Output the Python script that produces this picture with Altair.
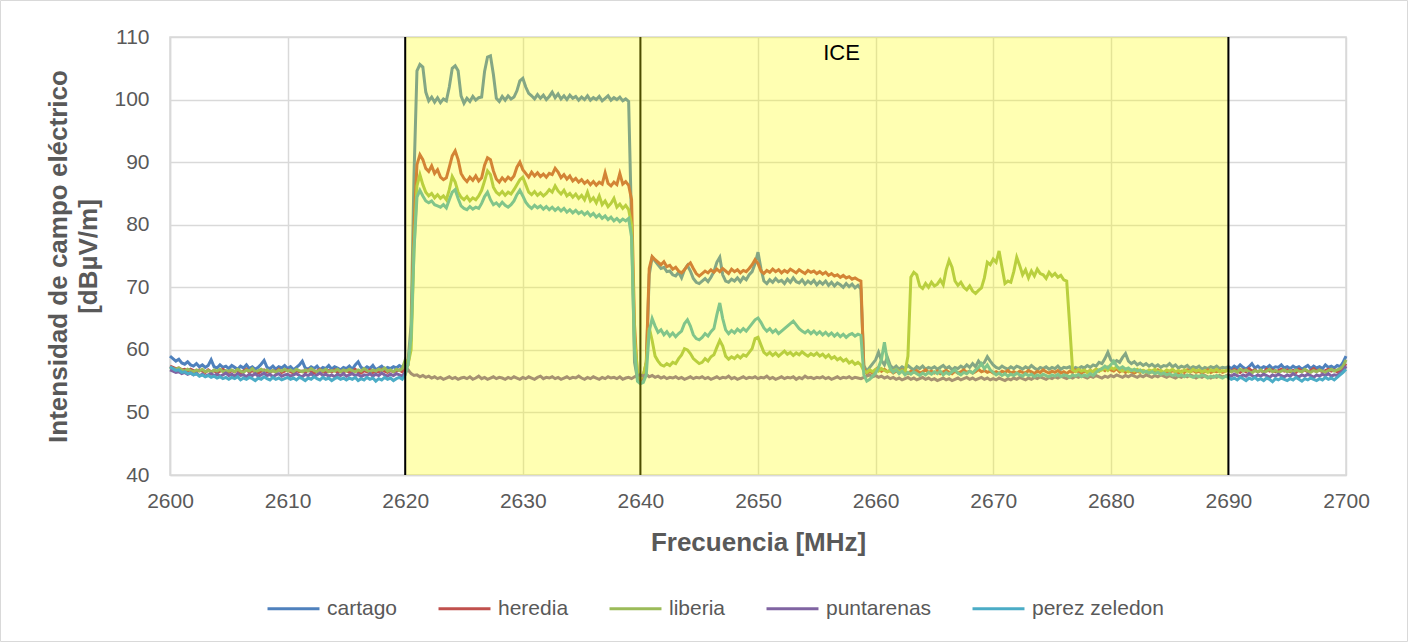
import altair as alt
import pandas as pd

# Spectrum sweep: one reading every 0.25 MHz from 2600 MHz to 2700 MHz
FREQ_START = 2600.0
FREQ_STEP = 0.25

SERIES = ["cartago", "heredia", "liberia", "puntarenas", "perez zeledon"]
COLORS = ["#4F81BD", "#C0504D", "#9BBB59", "#8064A2", "#4BACC6"]

X_TICKS = [2600, 2610, 2620, 2630, 2640, 2650, 2660, 2670, 2680, 2690, 2700]
Y_TICKS = [40, 50, 60, 70, 80, 90, 100, 110]

# Operator band (ICE) and its channel edges
BAND_START = [2620]
BAND_END = [2690]
EDGES_UNDER = [2640]
EDGES_OVER = [2620, 2690]
BAND_LABEL = ["ICE"]
BAND_LABEL_FREQ = [2657.1]
BAND_LABEL_LEVEL = [107.4]

cartago = [
    59.0, 58.6, 58.2, 58.5, 57.9, 57.7, 58.1, 57.6, 57.4, 57.8, 57.3, 57.6, 57.2, 57.5, 58.4, 57.3, 57.1, 57.6, 57.2, 57.4,
    57.0, 57.5, 57.2, 56.9, 57.4, 57.1, 57.6, 57.0, 57.3, 56.9, 57.2, 57.7, 58.3, 57.2, 57.0, 57.4, 56.9, 57.3, 57.1, 57.5,
    57.0, 57.3, 56.8, 57.2, 57.6, 58.2, 57.1, 56.9, 57.3, 57.0, 57.4, 56.8, 57.2, 57.0, 57.5, 56.9, 57.3, 57.1, 56.8, 57.2,
    57.0, 57.4, 56.9, 57.6, 58.1, 57.2, 56.9, 57.3, 57.0, 57.5, 56.8, 57.1, 57.4, 56.9, 57.2, 57.0, 57.3, 57.1, 57.5, 57.2,
    57.8, 58.4, 64.0, 88.0, 104.6, 105.6, 105.2, 101.2, 99.8, 100.4, 99.6, 100.3, 99.5, 100.1, 99.8, 102.0, 105.0, 105.4, 104.6, 100.6,
    99.4, 100.2, 99.7, 100.5, 99.9, 100.3, 100.4, 104.5, 106.8, 107.0, 104.0, 100.2, 99.7, 100.5, 99.9, 100.6, 100.1, 100.4, 101.4, 103.0,
    103.4, 102.0, 101.0, 100.6, 100.1, 100.8, 100.2, 100.7, 100.0, 100.5, 101.2, 100.3, 100.9, 100.1, 100.6, 100.0, 100.7, 100.2, 100.5, 99.9,
    100.4, 100.0, 100.6, 99.9, 100.3, 100.0, 100.5, 99.8, 100.2, 100.6, 99.9, 100.3, 100.0, 100.4, 99.8, 100.1, 99.7, 80.0, 58.0, 55.4,
    55.0, 55.6, 57.5, 72.0, 74.8, 74.2, 73.6, 73.0, 73.2, 72.5, 72.6, 72.0, 71.8, 72.4, 71.5, 72.8, 73.5, 72.6, 71.4, 70.8,
    70.6, 71.0, 71.4, 70.9, 71.6, 72.5, 74.0, 74.8, 72.0, 71.0, 70.8, 71.3, 71.0, 71.5, 70.9, 71.6, 71.2, 72.0, 72.5, 73.8,
    75.6, 73.0, 71.0, 70.6, 71.2, 70.8, 71.4, 70.9, 71.1, 70.6, 71.3, 70.8, 71.5, 70.9, 70.7, 71.2, 70.5, 71.0, 70.6, 71.1,
    70.4, 70.9, 70.5, 71.0, 70.3, 70.8, 70.2, 70.7, 70.4, 70.0, 70.6, 70.1, 70.5, 69.9, 70.3, 69.7, 57.5, 56.6, 57.2, 57.8,
    58.4, 59.6, 58.3, 57.6, 58.8, 57.5, 57.0, 57.4, 56.9, 57.3, 57.0, 57.5, 57.1, 56.8, 57.3, 57.0, 57.4, 56.9, 57.2, 57.0,
    57.3, 56.9, 57.2, 57.5, 57.0, 57.3, 56.8, 57.2, 57.0, 57.4, 57.1, 57.6, 57.2, 57.8, 57.3, 58.2, 57.6, 58.0, 58.9, 58.2,
    57.6, 57.2, 57.0, 57.4, 57.1, 56.9, 57.3, 57.0, 57.4, 57.2, 56.9, 57.3, 57.0, 57.5, 57.1, 56.8, 57.2, 57.0, 57.3, 56.9,
    57.2, 57.0, 57.4, 56.9, 57.2, 57.1, 57.3, 56.8, 57.2, 57.0, 57.3, 57.1, 57.5, 57.2, 57.6, 57.4, 58.0, 57.8, 58.6, 59.6,
    58.4, 57.9, 58.3, 58.0, 58.8, 59.4, 58.2, 57.8, 58.1, 57.6, 57.9, 57.5, 57.8, 57.4, 57.7, 57.3, 57.6, 57.2, 57.5, 57.4,
    57.8, 57.3, 57.6, 57.1, 57.4, 57.2, 57.5, 57.0, 57.3, 57.1, 57.4, 56.9, 57.2, 57.0, 57.3, 57.1, 57.4, 57.0, 57.2, 57.1,
    57.3, 57.0, 57.4, 57.1, 57.6, 57.2, 56.9, 57.3, 57.8, 57.1, 57.4, 57.0, 57.3, 57.1, 57.5, 57.0, 57.3, 57.2, 57.6, 57.1,
    57.3, 57.0, 57.4, 57.1, 57.3, 56.9, 57.2, 57.5, 57.0, 57.4, 57.1, 57.3, 57.0, 57.6, 57.2, 57.4, 57.1, 57.5, 57.3, 58.0,
    59.0,
]

heredia = [
    57.4, 57.2, 57.0, 57.1, 56.8, 56.9, 56.6, 56.9, 56.7, 56.5, 56.8, 56.6, 56.4, 56.8, 56.5, 56.7, 56.3, 56.6, 56.9, 56.5,
    56.4, 56.7, 56.5, 56.8, 56.3, 56.6, 56.9, 56.4, 56.7, 56.5, 56.3, 56.6, 56.8, 56.5, 56.4, 56.7, 56.5, 56.9, 56.4, 56.6,
    56.8, 56.5, 56.3, 56.7, 56.5, 56.6, 56.4, 56.8, 56.5, 56.3, 56.6, 56.9, 56.5, 56.4, 56.7, 56.5, 56.8, 56.4, 56.6, 56.5,
    56.7, 56.4, 56.6, 56.9, 56.5, 56.3, 56.7, 56.5, 56.8, 56.4, 56.6, 56.5, 56.9, 56.6, 56.4, 56.7, 56.5, 56.6, 56.8, 56.5,
    57.0, 57.6, 62.0, 80.0, 89.6, 91.2, 90.4, 89.0, 88.5, 89.4, 88.2, 88.8, 87.6, 87.2, 87.5, 89.2, 91.0, 91.8, 90.4, 88.2,
    87.4, 86.9, 87.6, 87.1, 87.8, 87.0, 87.5, 89.5, 90.7, 90.4, 88.6, 87.3, 86.8, 87.5, 87.0, 87.6, 87.2, 87.8, 89.2, 90.0,
    88.8, 88.2, 87.6, 88.4, 87.8, 88.3, 87.7, 88.1, 87.6, 88.2, 88.0, 89.0, 88.4, 87.5, 88.0, 87.3, 87.8, 87.0, 87.4, 86.8,
    87.2, 86.6, 87.0, 86.4, 86.9, 86.3, 86.8, 86.5, 88.3, 86.6, 86.2, 86.8, 86.4, 88.2, 86.5, 86.9, 86.3, 84.0, 64.0, 55.8,
    55.2, 55.8, 58.0, 73.0, 74.9, 74.4, 74.0, 73.6, 74.1, 73.3, 73.5, 72.9, 73.2, 72.6, 72.3, 72.8, 73.5, 73.9, 73.0, 72.2,
    71.8, 72.2, 72.6, 72.3, 72.8, 72.4, 72.9, 72.5, 73.0, 72.6, 72.2, 72.9, 72.5, 72.8, 72.3, 72.7, 72.5, 73.0, 73.6, 74.4,
    73.8, 72.6, 72.2, 72.7, 72.4, 72.9, 72.5, 72.8, 72.3, 72.7, 72.4, 72.9, 72.6, 72.3, 72.8, 72.5, 72.2, 72.7, 72.4, 72.6,
    72.2, 72.5, 72.1, 72.4, 71.9, 72.2, 71.8, 72.0, 71.6, 71.9, 71.5, 71.7, 71.3, 71.5, 71.2, 71.0, 57.0, 56.2, 56.6, 56.3,
    56.8, 57.2, 56.6, 56.9, 56.5, 56.7, 56.3, 56.6, 56.4, 56.8, 56.5, 56.2, 56.6, 56.4, 56.7, 56.3, 56.5, 56.8, 56.4, 56.6,
    56.3, 56.6, 56.2, 56.5, 56.7, 56.4, 56.2, 56.6, 56.3, 56.5, 56.8, 56.4, 56.6, 56.3, 56.5, 56.9, 56.5, 56.7, 56.4, 56.6,
    56.3, 56.5, 56.2, 56.6, 56.4, 56.7, 56.3, 56.5, 56.2, 56.6, 56.4, 56.3, 56.7, 56.5, 56.2, 56.6, 56.4, 56.8, 56.5, 56.3,
    56.6, 56.4, 56.7, 56.3, 56.5, 56.2, 56.6, 56.4, 56.8, 56.5, 56.3, 56.6, 56.4, 56.7, 56.5, 56.9, 56.6, 57.0, 56.7, 57.2,
    56.8, 56.6, 57.0, 56.5, 56.8, 56.4, 56.7, 56.5, 56.3, 56.6, 56.4, 56.7, 56.5, 56.3, 56.6, 56.4, 56.8, 56.5, 56.3, 56.6,
    56.4, 56.7, 56.5, 56.3, 56.6, 56.4, 56.8, 56.5, 56.7, 56.4, 56.6, 56.3, 56.5, 56.8, 56.4, 56.6, 56.5, 56.7, 56.4, 56.6,
    56.8, 56.5, 56.9, 56.6, 56.4, 56.8, 56.5, 57.0, 56.6, 56.8, 56.5, 56.7, 56.4, 56.9, 56.6, 56.8, 56.5, 56.7, 56.9, 56.6,
    56.8, 56.5, 56.7, 56.4, 56.9, 56.6, 56.8, 56.5, 56.7, 57.0, 56.6, 56.8, 56.5, 56.7, 56.9, 56.6, 56.8, 56.5, 56.7, 57.2,
    57.8,
]

liberia = [
    57.2, 57.0, 56.9, 57.1, 56.8, 56.6, 56.9, 56.7, 56.5, 56.8, 56.6, 56.9, 56.5, 56.7, 56.4, 56.8, 56.6, 56.9, 56.5, 56.7,
    56.6, 56.8, 56.5, 56.9, 56.6, 56.4, 56.8, 56.6, 57.0, 56.5, 56.7, 56.9, 56.6, 56.8, 56.5, 56.7, 56.4, 56.8, 56.6, 56.9,
    56.6, 56.8, 56.5, 56.9, 56.7, 56.5, 56.8, 56.6, 57.0, 56.7, 56.5, 56.8, 56.6, 56.9, 56.5, 56.7, 56.6, 56.9, 56.5, 56.8,
    56.6, 56.9, 56.7, 56.5, 56.8, 56.6, 57.0, 56.7, 56.5, 56.8, 56.6, 56.9, 56.7, 57.1, 56.6, 56.8, 56.5, 56.9, 56.7, 57.0,
    58.4, 57.8, 60.0, 76.0, 86.2, 88.0, 86.4, 85.2, 84.6, 85.0, 84.3, 84.8, 84.2, 84.6, 84.0, 85.6, 87.7, 86.8, 85.2, 84.4,
    84.0, 84.5, 83.8, 84.3, 84.0, 84.6, 85.5, 87.0, 88.6, 88.0, 86.0, 85.2, 84.8, 85.3, 84.7, 85.2, 84.9, 85.6, 86.4, 87.2,
    87.6, 86.4, 85.2, 84.8, 85.3, 84.7, 85.1, 84.6, 85.0, 85.6, 85.2, 86.2, 85.4, 84.9, 85.5, 84.6, 85.0, 84.4, 84.9, 84.2,
    84.7, 84.0, 85.2, 83.8, 84.3, 83.5, 84.6, 83.2, 83.8, 82.9, 83.4, 84.2, 82.8, 83.3, 82.6, 83.1, 82.4, 80.0, 62.0, 56.5,
    55.4, 56.0, 58.0, 63.5, 61.5, 59.0, 58.2, 57.6, 57.4, 57.8, 57.5, 58.0, 57.8, 58.6, 59.2, 60.2, 60.0, 59.4, 58.6, 58.2,
    57.8, 58.0, 58.6, 58.2, 58.9, 59.2, 60.4, 61.5, 60.6, 59.0, 58.5, 58.9, 58.6, 59.1, 58.7, 59.2, 59.0, 59.6, 60.2, 61.8,
    62.0, 60.8, 59.6, 59.2, 59.6, 59.1, 59.5, 59.0, 59.4, 59.8, 59.3, 59.6, 59.1, 59.5, 59.2, 59.7, 59.3, 59.0, 59.4, 59.1,
    59.5, 59.0, 59.3, 58.8, 59.2, 58.6, 58.9, 58.4, 58.7, 58.2, 58.5, 57.9, 58.2, 57.7, 58.0, 57.6, 56.6, 56.4, 56.8, 56.5,
    56.9, 56.6, 57.0, 56.7, 56.5, 56.8, 56.6, 56.9, 56.5, 56.7, 56.4, 59.0, 71.6, 72.4, 72.0, 70.2, 69.8, 70.6, 70.0, 70.8,
    70.2, 70.5, 71.2, 70.4, 72.8, 74.3, 73.2, 71.0, 70.3, 70.8, 70.0, 69.6, 70.2, 69.4, 69.0, 69.5, 69.9, 71.5, 74.0, 73.6,
    74.5, 74.0, 75.8, 73.2, 70.6, 71.0, 70.8, 72.5, 74.8, 73.5, 72.0, 72.8, 71.5, 72.6, 71.8, 72.9, 72.2, 72.0, 71.4, 72.4,
    71.8, 72.2, 71.6, 71.9, 71.2, 71.0, 64.0, 56.8, 56.5, 56.9, 56.6, 56.8, 56.4, 56.7, 56.5, 56.9, 56.6, 56.8, 57.1, 56.7,
    57.2, 56.9, 57.3, 56.8, 56.6, 56.9, 56.5, 56.8, 56.6, 56.9, 56.5, 56.7, 56.4, 56.8, 56.6, 56.9, 56.5, 56.7, 56.4, 56.8,
    56.6, 56.9, 56.5, 56.7, 56.4, 56.8, 56.6, 56.5, 56.9, 56.6, 56.8, 56.5, 56.7, 56.4, 56.8, 56.6, 56.9, 56.5, 56.7, 56.6,
    56.8, 56.5, 56.7, 56.4, 56.9, 56.6, 56.8, 56.5, 56.3, 56.7, 56.5, 56.8, 56.4, 56.6, 56.9, 56.5, 56.7, 56.4, 56.6, 56.8,
    56.5, 56.7, 56.4, 56.8, 56.6, 56.5, 56.9, 56.6, 56.4, 56.7, 56.5, 56.8, 56.6, 56.4, 56.7, 56.9, 56.6, 56.8, 57.0, 57.4,
    58.4,
]

puntarenas = [
    56.8, 56.6, 56.4, 56.5, 56.2, 56.4, 56.1, 56.3, 56.0, 56.2, 55.9, 56.1, 55.8, 56.0, 56.2, 55.9, 56.1, 55.8, 56.0, 56.3,
    55.9, 56.1, 55.8, 56.2, 55.9, 56.0, 55.7, 56.1, 55.9, 56.2, 55.8, 56.0, 56.3, 55.9, 56.1, 55.7, 56.0, 56.2, 55.8, 56.0,
    56.1, 55.8, 56.0, 56.2, 55.9, 55.7, 56.1, 55.9, 56.2, 55.8, 56.0, 56.3, 55.9, 56.1, 55.8, 56.0, 55.7, 56.1, 55.9, 56.2,
    55.8, 56.0, 56.2, 55.9, 56.1, 55.7, 56.0, 55.9, 56.2, 55.8, 56.1, 55.9, 56.3, 56.0, 55.8, 56.1, 55.9, 56.2, 56.0, 55.8,
    56.4, 56.8, 56.2, 55.9, 56.0, 55.7, 55.9, 55.6, 55.8, 55.5, 55.7, 55.4, 55.6, 55.3, 55.5, 55.7, 55.4, 55.6, 55.3, 55.5,
    55.6, 55.4, 55.7, 55.3, 55.5, 55.8, 55.4, 55.6, 55.3, 55.5, 55.7, 55.4, 55.6, 55.5, 55.3, 55.6, 55.4, 55.7, 55.5, 55.3,
    55.6, 55.4, 55.7, 55.5, 55.3, 55.6, 55.8, 55.4, 55.6, 55.5, 55.7, 55.4, 55.6, 55.3, 55.5, 55.7, 55.4, 55.6, 55.5, 55.8,
    55.5, 55.3, 55.6, 55.4, 55.7, 55.5, 55.3, 55.6, 55.4, 55.7, 55.5, 55.6, 55.4, 55.7, 55.3, 55.5, 55.6, 55.4, 55.7, 55.9,
    56.0, 55.8, 56.1, 55.7, 55.9, 55.6, 55.8, 55.5, 55.7, 55.4, 55.6, 55.5, 55.7, 55.4, 55.6, 55.3, 55.5, 55.7, 55.4, 55.6,
    55.5, 55.7, 55.4, 55.6, 55.3, 55.5, 55.7, 55.4, 55.6, 55.5, 55.8, 55.4, 55.6, 55.3, 55.5, 55.7, 55.4, 55.6, 55.5, 55.7,
    55.4, 55.6, 55.5, 55.8, 55.4, 55.6, 55.3, 55.5, 55.7, 55.4, 55.6, 55.5, 55.7, 55.3, 55.6, 55.4, 55.8, 55.5, 55.6, 55.4,
    55.6, 55.5, 55.7, 55.4, 55.6, 55.3, 55.5, 55.7, 55.4, 55.6, 55.5, 55.7, 55.4, 55.6, 55.5, 55.4, 55.6, 55.8, 56.0, 55.7,
    55.9, 55.6, 55.8, 55.5, 55.7, 55.4, 55.6, 55.3, 55.5, 55.2, 55.4, 55.6, 55.3, 55.5, 55.2, 55.4, 55.6, 55.3, 55.5, 55.2,
    55.4, 55.1, 55.3, 55.5, 55.2, 55.4, 55.1, 55.3, 55.5, 55.2, 55.4, 55.6, 55.3, 55.5, 55.2, 55.4, 55.6, 55.3, 55.5, 55.2,
    55.4, 55.2, 55.5, 55.3, 55.1, 55.4, 55.2, 55.5, 55.3, 55.6, 55.4, 55.2, 55.5, 55.3, 55.6, 55.4, 55.7, 55.5, 55.3, 55.6,
    55.4, 55.7, 55.5, 55.8, 55.6, 55.4, 55.7, 55.5, 55.8, 55.6, 55.9, 55.7, 55.5, 55.8, 55.6, 55.9, 55.7, 55.5, 55.8, 55.6,
    55.9, 55.7, 56.0, 55.8, 55.6, 55.9, 55.7, 56.0, 55.8, 55.6, 55.9, 55.7, 56.0, 55.8, 55.6, 55.9, 55.7, 56.0, 55.8, 55.6,
    55.9, 55.7, 55.5, 55.8, 55.6, 55.9, 55.7, 56.0, 55.8, 55.5, 55.8, 55.6, 55.9, 55.7, 55.5, 55.8, 55.6, 55.9, 55.7, 55.8,
    56.0, 55.8, 56.1, 55.9, 55.7, 56.0, 55.8, 56.2, 55.9, 55.7, 56.0, 55.8, 56.1, 55.9, 55.6, 56.0, 55.8, 56.1, 55.9, 55.7,
    56.0, 55.8, 56.2, 55.9, 55.7, 56.0, 55.8, 56.1, 55.9, 55.6, 56.0, 55.8, 56.1, 55.9, 56.2, 55.8, 56.0, 55.9, 56.3, 56.6,
    57.4,
]

perez_zeledon = [
    57.3, 57.0, 56.7, 56.8, 56.4, 56.5, 56.2, 56.3, 56.0, 56.2, 55.8, 56.0, 55.7, 55.9, 55.6, 55.8, 55.5, 55.7, 55.4, 55.6,
    55.3, 55.6, 55.4, 55.7, 55.2, 55.5, 55.3, 55.6, 55.4, 55.1, 55.5, 55.3, 55.7, 55.4, 55.2, 55.6, 55.3, 55.5, 55.2, 55.4,
    55.6, 55.3, 55.5, 55.2, 55.6, 55.4, 55.1, 55.5, 55.3, 55.7, 55.4, 55.2, 55.6, 55.3, 55.5, 55.1, 55.4, 55.6, 55.3, 55.5,
    55.2, 55.5, 55.3, 55.6, 55.1, 55.4, 55.2, 55.6, 55.3, 55.5, 55.0, 55.4, 55.2, 55.6, 55.3, 55.5, 55.1, 55.4, 55.6, 55.3,
    56.0, 57.8, 62.0, 76.0, 84.4, 85.5, 84.6, 83.8, 83.5, 83.8, 83.2, 83.0, 82.8, 83.2, 82.7, 84.0, 85.2, 85.6, 84.2, 83.0,
    82.6, 82.4, 82.9, 82.5, 82.8, 82.6, 83.4, 84.5, 85.2, 84.0, 83.2, 83.5, 83.0, 83.6, 83.1, 82.8, 83.2, 83.8, 84.8, 85.5,
    84.6, 83.6, 83.0, 82.6, 83.1, 82.7, 83.0, 82.5, 82.9, 82.4, 82.8, 82.3, 82.7, 82.2, 82.6, 82.0, 82.4, 81.9, 82.3, 81.8,
    82.1, 81.6, 82.0, 81.4, 81.8, 81.2, 81.6, 81.0, 81.4, 80.8, 81.2, 80.6, 81.0, 80.5, 80.9, 80.6, 81.0, 78.0, 60.0, 55.0,
    54.6, 54.8, 56.0, 63.0, 65.0, 63.8, 62.8, 63.2, 62.4, 62.9, 62.2, 62.7, 62.1, 62.6, 63.0, 64.2, 64.8, 63.8, 62.4, 61.8,
    61.6, 62.0, 62.6, 62.2, 62.9, 63.4, 65.6, 67.5, 65.0, 63.2, 62.6, 63.1, 62.7, 63.3, 62.9, 63.4, 63.0, 63.6, 64.2, 64.8,
    65.1, 64.4, 63.5, 63.0, 63.4, 62.8, 63.2, 62.6, 63.0, 63.4, 63.8, 64.2, 64.6, 64.0, 63.4, 63.0, 62.7, 63.1, 62.6, 63.0,
    62.5, 62.9, 62.4, 62.8, 62.3, 62.7, 62.2, 62.6, 62.1, 62.5, 62.0, 62.4, 62.6, 62.2, 62.5, 62.3, 56.0, 55.0, 55.3, 55.8,
    56.3, 57.2, 58.5, 61.2, 58.2, 57.0, 56.4, 56.8, 56.2, 56.6, 56.0, 56.4, 56.1, 56.5, 56.2, 55.9, 56.3, 56.0, 56.4, 56.1,
    56.5, 56.2, 56.6, 56.0, 56.4, 56.1, 56.5, 56.8, 56.3, 56.0, 56.4, 56.2, 56.6, 56.3, 56.8, 57.2, 57.8, 57.0, 57.6, 56.8,
    56.4, 56.0, 56.3, 55.9, 56.2, 55.8, 56.1, 55.9, 56.3, 56.0, 55.8, 56.2, 55.9, 56.1, 55.7, 56.0, 55.8, 56.1, 55.9, 55.7,
    56.0, 55.8, 56.1, 55.7, 56.0, 55.9, 55.6, 56.0, 55.8, 56.1, 55.7, 56.0, 55.8, 56.2, 55.9, 56.4, 56.8, 57.0, 57.4, 57.1,
    57.6, 58.2, 57.4, 57.0, 57.3, 56.9, 57.1, 56.7, 56.9, 56.6, 56.8, 56.4, 56.6, 56.3, 56.5, 56.2, 56.4, 56.1, 56.3, 56.0,
    56.2, 55.9, 56.1, 55.8, 56.0, 55.7, 56.0, 55.8, 55.6, 55.9, 55.7, 56.0, 55.8, 55.5, 55.8, 55.6, 55.9, 55.7, 55.5, 55.8,
    55.6, 55.3, 55.5, 55.2, 55.6, 55.4, 55.1, 55.5, 55.3, 55.6, 55.2, 55.4, 55.1, 55.5, 55.3, 54.9, 55.4, 55.2, 55.5, 55.3,
    55.1, 55.4, 55.2, 55.6, 55.3, 55.0, 55.4, 55.2, 55.5, 55.3, 55.1, 55.4, 55.2, 55.6, 55.3, 55.5, 55.2, 55.6, 56.0, 56.4,
    56.9,
]

readings = [cartago, heredia, liberia, puntarenas, perez_zeledon]

rows = []
for order, (name, values) in enumerate(zip(SERIES, readings)):
    for i, v in enumerate(values):
        rows.append({"serie": name, "orden": order,
                     "frecuencia": FREQ_START + FREQ_STEP * i, "nivel": v})
spectrum = pd.DataFrame(rows)

band = pd.DataFrame({"f1": BAND_START, "f2": BAND_END})
edges_under = pd.DataFrame({"f": EDGES_UNDER})
edges_over = pd.DataFrame({"f": EDGES_OVER})
label = pd.DataFrame({"t": BAND_LABEL, "f": BAND_LABEL_FREQ, "v": BAND_LABEL_LEVEL})

FONT = "Liberation Sans"
GREY = "#595959"

x_scale = alt.Scale(domain=[2600, 2700], nice=False, zero=False)
y_scale = alt.Scale(domain=[40, 110], nice=False, zero=False)

x_axis = alt.Axis(values=X_TICKS, title="Frecuencia [MHz]", format="d",
                  labelFontSize=21, labelColor=GREY, labelFont=FONT, labelPadding=15,
                  labelFlush=False, labelOverlap=False,
                  titleFontSize=26, titleFont=FONT, titleFontWeight="bold", titleColor=GREY,
                  titlePadding=18, ticks=False, grid=True, gridColor="#D9D9D9", gridWidth=1.5,
                  domainColor="#D9D9D9", domainWidth=1.5)
y_axis = alt.Axis(values=Y_TICKS, title=["Intensidad de campo eléctrico", "[dBµV/m]"],
                  labelFontSize=21, labelColor=GREY, labelFont=FONT, labelPadding=21,
                  labelFlush=False,
                  titleFontSize=26, titleFont=FONT, titleFontWeight="bold", titleColor=GREY,
                  titleLineHeight=30, titlePadding=12, ticks=False, grid=True,
                  gridColor="#D9D9D9", gridWidth=1.5, domainColor="#D9D9D9", domainWidth=1.5)

lines = alt.Chart(spectrum).mark_line(strokeWidth=3).encode(
    x=alt.X("frecuencia:Q", scale=x_scale, axis=x_axis),
    y=alt.Y("nivel:Q", scale=y_scale, axis=y_axis),
    color=alt.Color("serie:N", sort=SERIES,
                    scale=alt.Scale(domain=SERIES, range=COLORS),
                    legend=alt.Legend(title=None, orient="none", direction="horizontal",
                                      legendX=96, legendY=544,
                                      symbolType="stroke", symbolStrokeWidth=3, symbolSize=2700,
                                      labelFontSize=21, labelFont=FONT, labelColor=GREY,
                                      labelOffset=6, columnPadding=34)),
    detail="orden:O",
)

rule_under = alt.Chart(edges_under).mark_rule(color="black", strokeWidth=2).encode(
    x=alt.X("f:Q", scale=x_scale))

shade = alt.Chart(band).mark_rect(color="#FFFF00", opacity=0.3).encode(
    x=alt.X("f1:Q", scale=x_scale), x2="f2:Q",
    y=alt.value(0), y2=alt.value(438))

rule_over = alt.Chart(edges_over).mark_rule(color="black", strokeWidth=2).encode(
    x=alt.X("f:Q", scale=x_scale))

text = alt.Chart(label).mark_text(fontSize=22, font=FONT, color="black").encode(
    x=alt.X("f:Q", scale=x_scale), y=alt.Y("v:Q", scale=y_scale), text="t:N")

frame = alt.Chart(label).mark_rect(fill="white", fillOpacity=0, stroke="#D9D9D9", strokeWidth=1).encode(
    x=alt.value(-169.5), x2=alt.value(1237.5), y=alt.value(-36.5), y2=alt.value(604.5))

chart = alt.layer(lines, rule_under, shade, rule_over, text, frame).properties(
    width=1176, height=438,
    autosize=alt.AutoSizeParams(type="none"),
    padding={"left": 170, "top": 37, "right": 62, "bottom": 167},
    background="white",
).configure_view(stroke="#D9D9D9", strokeWidth=1.5)

chart.save("out.html", embed_options={"renderer": "svg", "actions": False})
